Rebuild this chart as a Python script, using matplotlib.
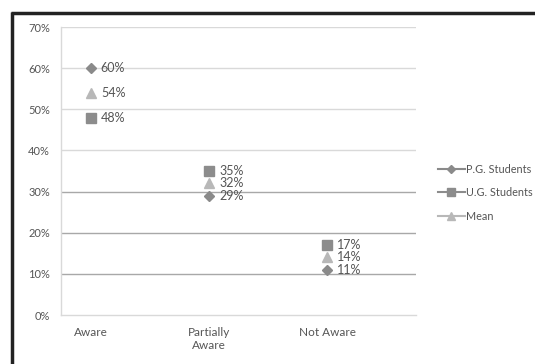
import matplotlib.pyplot as plt
from matplotlib.lines import Line2D

categories = ["Aware", "Partially\nAware", "Not Aware"]
pg_students = [60, 29, 11]
ug_students = [48, 35, 17]
mean_vals = [54, 32, 14]
y_ticks = [0, 10, 20, 30, 40, 50, 60, 70]

plt.rcParams['font.family'] = ['Lato', 'DejaVu Sans']

fig = plt.figure(figsize=(5.35, 3.64), dpi=100)
ax = fig.add_axes([61/535, 1 - 315/364, (416-61)/535, (315-27)/364])

# gridlines (scan shows some darker than others)
for t in y_ticks[1:]:
    c = '#a8a8a8' if t in (10, 20, 30) else '#d9d9d9'
    ax.axhline(t, color=c, lw=1, zorder=0)

x = list(range(len(categories)))
series = [
    ("P.G. Students", pg_students, 'D', '#8a8a8a', 5),
    ("U.G. Students", ug_students, 's', '#8c8c8c', 6.5),
    ("Mean", mean_vals, '^', '#b8b8b8', 7),
]
for name, vals, m, col, ms in series:
    ax.plot(x, vals, linestyle='none', marker=m, color=col, markersize=ms, zorder=3)
    for xi, v in zip(x, vals):
        ax.annotate(f"{v}%", (xi, v), xytext=(7, 0), textcoords='offset points',
                    va='center', ha='left', fontsize=9, color='#555555')

ax.set_xlim(-0.255, 2.75)
ax.set_ylim(0, 70)
ax.set_yticks(y_ticks)
ax.set_yticklabels([f"{t}%" for t in y_ticks], fontsize=8, color='#555555')
ax.set_xticks(x)
ax.set_xticklabels(categories, fontsize=8.5, color='#555555')
ax.tick_params(axis='x', length=0, pad=9)
ax.tick_params(axis='y', length=0, pad=8)
for s in ['top', 'right']:
    ax.spines[s].set_visible(False)
for s in ['left', 'bottom']:
    ax.spines[s].set_color('#d9d9d9')
    ax.spines[s].set_linewidth(1)

handles = [Line2D([], [], color=col, marker=m, markersize=ms*0.8, lw=1.5)
           for name, vals, m, col, ms in series]
fig.legend(handles, [s[0] for s in series], loc='upper left',
           bbox_to_anchor=(428/535, 1 - 154/364), frameon=False,
           fontsize=7.8, labelcolor='#555555', handlelength=2.5,
           handletextpad=0.1, labelspacing=1.15)

# scanned page border (top and left)
fig.add_artist(Line2D([11/535, 1], [1 - 13/364, 1 - 13/364], color='#222222',
                      lw=2.5, solid_capstyle='butt'))
fig.add_artist(Line2D([12/535, 12/535], [0, 1 - 12/364], color='#222222',
                      lw=2.5, solid_capstyle='butt'))

fig.savefig("out.png", dpi=100)
